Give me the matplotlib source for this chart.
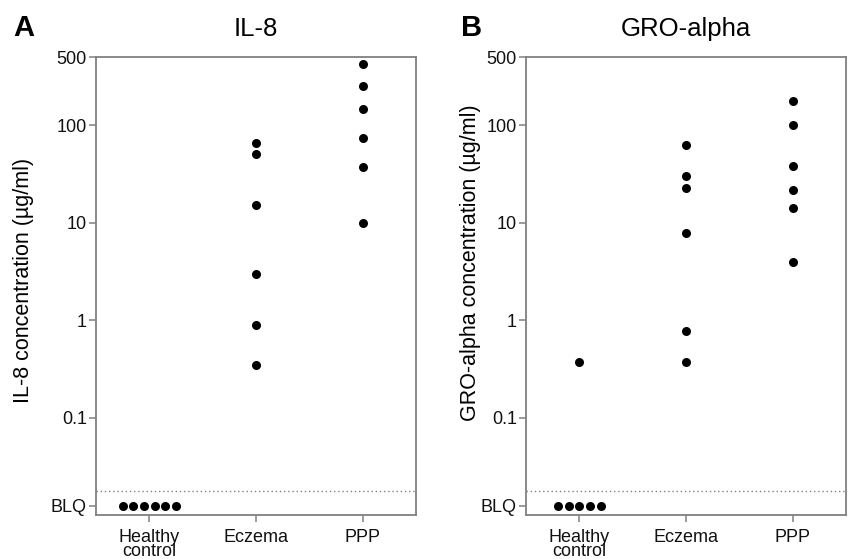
import numpy as np
import matplotlib
matplotlib.use("Agg")
import matplotlib.pyplot as plt
from matplotlib.ticker import NullLocator

plt.rcParams['font.family'] = ['Liberation Sans', 'DejaVu Sans']

groups = ["Healthy\ncontrol", "Eczema", "PPP"]
BLQ = 0.0125          # plotting position for "below limit of quantification"
LOQ_LINE = 0.0175     # dotted detection-limit line

# IL-8 (ug/ml)
il8_healthy = [BLQ] * 6
il8_eczema = [65, 50, 15.3, 2.95, 0.88, 0.35]
il8_ppp = [420, 250, 145, 74, 37.5, 10]

# GRO-alpha (ug/ml)
gro_healthy = [BLQ] * 5 + [0.37]
gro_eczema = [63, 30, 22.5, 7.9, 0.78, 0.37]
gro_ppp = [175, 100, 38, 21.5, 14, 3.9]

ytick_vals = [BLQ, 0.1, 1, 10, 100, 500]
ytick_labels = ["BLQ", "0.1", "1", "10", "100", "500"]

grey = "#808080"

fig = plt.figure(figsize=(8.51, 5.59), dpi=100)
axA = fig.add_axes([0.1128, 0.0787, 0.376, 0.8193])
axB = fig.add_axes([0.618, 0.0787, 0.376, 0.8193])


def spread_blq(vals, x):
    # BLQ points are laid side by side; others sit on the group position
    vals = np.asarray(vals, dtype=float)
    blq = vals == BLQ
    xs = np.full(len(vals), float(x))
    n = blq.sum()
    xs[blq] = x + (np.arange(n) - (n - 1) / 2) * 0.1
    return xs, vals


def panel(ax, data, title, ylabel, label_xy):
    for i, vals in enumerate(data, start=1):
        xs, ys = spread_blq(vals, i)
        ax.plot(xs, ys, "o", color="black", markersize=6.5, markeredgewidth=0, zorder=3)
    ax.axhline(LOQ_LINE, color=grey, linestyle=(0, (1, 2)), linewidth=1.0, zorder=1)
    ax.set_yscale("log")
    ax.set_ylim(0.01, 500)
    ax.set_xlim(0.5, 3.5)
    ax.set_yticks(ytick_vals)
    ax.set_yticklabels(ytick_labels)
    ax.yaxis.set_minor_locator(NullLocator())
    ax.set_xticks([1, 2, 3])
    ax.set_xticklabels(groups, linespacing=0.78)
    for s in ax.spines.values():
        s.set_color(grey)
        s.set_linewidth(1.3)
    ax.tick_params(axis="both", colors=grey, labelcolor="#111111", labelsize=13,
                   length=5, width=1.1, direction="out")
    ax.tick_params(axis="y", pad=1.5)
    ax.tick_params(axis="x", pad=5)
    ax.set_title(title, fontsize=18.5, pad=15)
    ax.set_ylabel(ylabel, fontsize=15.5)
    ax.yaxis.label.set_va("center")
    ax.yaxis.set_label_coords(*label_xy)


panel(axA, [il8_healthy, il8_eczema, il8_ppp], "IL-8",
      "IL-8 concentration (\u00b5g/ml)", (-0.225, 0.513))
panel(axB, [gro_healthy, gro_eczema, gro_ppp], "GRO-alpha",
      "GRO-alpha concentration (\u00b5g/ml)", (-0.173, 0.552))

fig.text(13 / 851, 1 - 28.5 / 559, "A", fontsize=21, fontweight="bold",
         ha="left", va="center")
fig.text(461 / 851, 1 - 28.5 / 559, "B", fontsize=21, fontweight="bold",
         ha="left", va="center")

fig.savefig("out.png", dpi=100)
